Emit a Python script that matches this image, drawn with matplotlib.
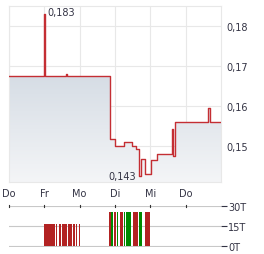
import numpy as np
import matplotlib
matplotlib.use('Agg')
from matplotlib import pyplot as plt
from matplotlib.colors import LinearSegmentedColormap

# price series, time in trading-day units (0 = Do, 6 = right edge)
priceTimes = [0.0, 1.0, 1.02, 1.61, 1.64, 2.87, 3.0, 3.255, 3.473, 3.595, 3.68,
              3.75, 3.85, 4.02, 4.175, 4.614, 4.64, 4.70, 5.63, 5.675, 6.0]
priceValues = [0.1676, 0.183, 0.1676, 0.168, 0.1676, 0.1518, 0.1502, 0.1512, 0.1502,
               0.1493, 0.1427, 0.1468, 0.1431, 0.1465, 0.1481, 0.1543, 0.1475,
               0.156, 0.1596, 0.156, 0.156]

dayLabels = ['Do', 'Fr', 'Mo', 'Di', 'Mi', 'Do']
priceTicks = [0.15, 0.16, 0.17, 0.18]
volumeTicks = [0, 15, 30]
volumeTickLabels = ['0T', '15T', '30T']

# volume bars: start, width (day units), volume in thousands, colour
volumeStart = [0.996, 1.279, 1.339, 1.406, 1.500, 1.670, 1.811, 1.887, 1.971,
               2.830, 2.887, 2.972, 3.057, 3.150, 3.255, 3.303, 3.501, 3.680,
               3.745, 3.841, 3.971]
volumeWidth = [0.283, 0.028, 0.028, 0.065, 0.142, 0.113, 0.057, 0.045, 0.037,
               0.057, 0.048, 0.057, 0.037, 0.068, 0.028, 0.158, 0.150, 0.048,
               0.028, 0.113, 0.028]
volumeValues = [17, 17, 17, 17, 17, 17, 17, 17, 17,
                26, 26, 26, 26, 26, 26, 26, 26, 26, 26, 26, 26]
volumeColors = ['r', 'r', 'r', 'r', 'r', 'r', 'r', 'r', 'r',
                'r', 'g', 'r', 'g', 'r', 'g', 'g', 'r', 'g', 'g', 'r', 'r']

lineColor = '#c42e33'
gridColor = '#e8e8e8'
textColor = '#333344'
colorMap = {'r': '#b22222', 'g': '#008a00'}

fig = plt.figure(figsize=(2.64, 2.55), dpi=100)

ax = fig.add_axes([9 / 264, 1 - 183 / 255, 212 / 264, 176 / 255])
ax.set_xlim(0, 6)
ax.set_ylim(0.1411, 0.1851)

fill = ax.fill_between(priceTimes, priceValues, 0.1411, step='post', alpha=0)
gradient = np.linspace(1, 0, 256).reshape(-1, 1)
cmap = LinearSegmentedColormap.from_list('fade', ['#f4f5f7', '#d6dde5'])
img = ax.imshow(gradient, extent=[0, 6, 0.1411, 0.1676], aspect='auto',
                cmap=cmap, origin='upper', zorder=1)
img.set_clip_path(fill.get_paths()[0], transform=ax.transData)
ax.set_ylim(0.1411, 0.1851)

ax.step(priceTimes, priceValues, where='post', color=lineColor, linewidth=1.0, zorder=3)

ax.text(1.08, 0.1835, '0,183', fontsize=7, color=textColor, va='center', ha='left')
ax.text(3.6, 0.1427, '0,143', fontsize=7, color=textColor, va='center', ha='right')

ax.set_xticks(range(len(dayLabels)))
ax.set_xticklabels(dayLabels)
ax.set_yticks(priceTicks)
ax.set_yticklabels([('%.2f' % v).replace('.', ',') for v in priceTicks])
ax.yaxis.tick_right()
ax.tick_params(axis='both', length=0, labelsize=7, colors=textColor)
ax.tick_params(axis='x', pad=4)
ax.tick_params(axis='y', pad=4)
ax.grid(True, color=gridColor, linewidth=0.8, zorder=0)
ax.set_axisbelow(True)
for spine in ax.spines.values():
    spine.set_color(gridColor)

vax = fig.add_axes([9 / 264, 1 - 248 / 255, 212 / 264, 41.4 / 255])
vax.set_xlim(0, 6)
vax.set_ylim(-0.5, 30.5)
vax.bar(volumeStart, volumeValues, width=volumeWidth, align='edge',
        color=[colorMap[c] for c in volumeColors], linewidth=0, zorder=3)
vax.set_yticks(volumeTicks)
vax.set_yticklabels(volumeTickLabels)
vax.yaxis.tick_right()
vax.tick_params(axis='y', length=4, width=0.8, labelsize=7, colors=textColor, pad=1)
vax.set_xticks(range(len(dayLabels)))
vax.tick_params(axis='x', length=3, width=0.8, direction='inout', bottom=False,
                labelbottom=False, color='#333333')
vax.grid(True, axis='y', color='#c8c8c8', linewidth=0.8, zorder=0)
for spine in vax.spines.values():
    spine.set_visible(False)
# tick marks sit on the 30T line, so draw them there
for d in range(len(dayLabels)):
    vax.plot([d, d], [29.2, 30.8], color='#333333', linewidth=0.8, zorder=4, clip_on=False)

fig.savefig('out.png', dpi=100)
